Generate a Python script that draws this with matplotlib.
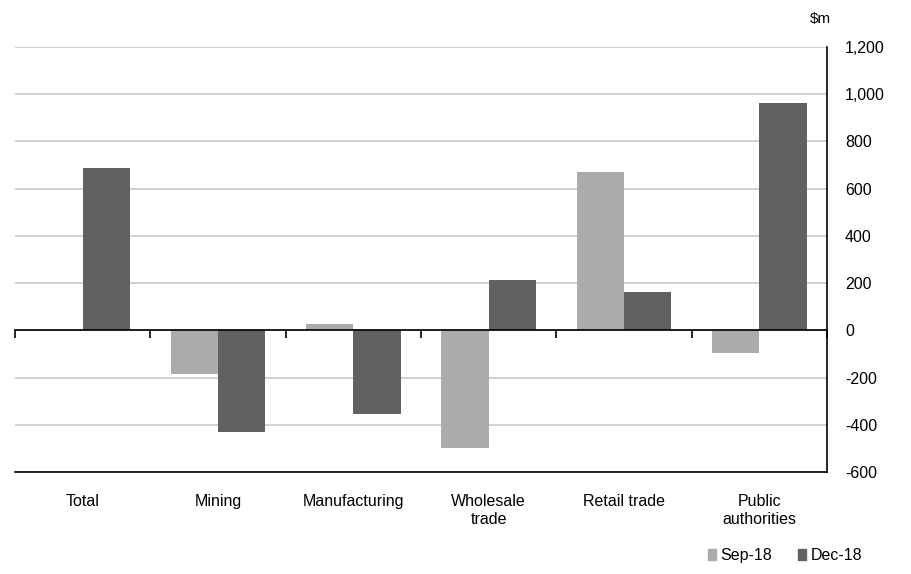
import numpy as np
import matplotlib
matplotlib.use('Agg')
import matplotlib.pyplot as plt
from matplotlib import font_manager
from matplotlib.patches import Patch
from matplotlib.ticker import FuncFormatter, FixedLocator

categories = ['Total', 'Mining', 'Manufacturing', 'Wholesale\ntrade', 'Retail trade', 'Public\nauthorities']
sep_18 = [0, -184, 28, -497, 672, -97]
dec_18 = [689, -429, -353, 213, 164, 961]
y_ticks = [-600, -400, -200, 0, 200, 400, 600, 800, 1000, 1200]

names = {f.name for f in font_manager.fontManager.ttflist}
font = 'Liberation Sans Narrow' if 'Liberation Sans Narrow' in names else 'Liberation Sans'
plt.rcParams['font.family'] = [font, 'DejaVu Sans']

light = '#ababab'
dark = '#616161'

fig = plt.figure(figsize=(9.11, 5.74), dpi=100)
ax = fig.add_axes([15 / 911, 1 - 472 / 574, (827 - 15) / 911, (472 - 47) / 574])

x = np.arange(len(categories))
w = 0.35
ax.bar(x - w / 2, sep_18, w, color=light, zorder=3)
ax.bar(x + w / 2, dec_18, w, color=dark, zorder=3)

ax.set_xlim(-0.5, len(categories) - 0.5)
ax.set_ylim(-600, 1200)
ax.set_yticks(y_ticks)
ax.yaxis.set_major_formatter(FuncFormatter(lambda v, p: f'{int(v):,}'))
ax.yaxis.tick_right()
ax.tick_params(axis='y', length=0, pad=13, labelsize=11.5)
ax.grid(axis='y', color='#c8c8c8', linewidth=1.2, zorder=0)

# zero line uses the top spine, with boundary ticks pointing down
ax.spines['top'].set_position(('data', 0))
ax.spines['top'].set_zorder(4)
ax.spines['left'].set_visible(False)
for s in ['top', 'bottom', 'right']:
    ax.spines[s].set_linewidth(1.2)
    ax.spines[s].set_color('black')

ax.xaxis.set_major_locator(FixedLocator(np.arange(-0.5, len(categories), 1.0)))
ax.xaxis.set_minor_locator(FixedLocator(x))
ax.xaxis.set_major_formatter(FuncFormatter(lambda v, p: ''))
ax.set_xticklabels(categories, minor=True)
ax.tick_params(axis='x', which='major', top=True, bottom=False, labeltop=False,
               labelbottom=False, direction='in', length=6, width=1.2)
ax.tick_params(axis='x', which='minor', bottom=True, length=0, pad=16, labelsize=11.5)

ax.annotate('$m', xy=(1.0, 1.0), xycoords='axes fraction', xytext=(3, 20),
            textcoords='offset points', ha='right', va='center', fontsize=11)

handles = [Patch(color=light, label='Sep-18'), Patch(color=dark, label='Dec-18')]
fig.legend(handles=handles, loc='center right', bbox_to_anchor=(0.962, 0.032),
           ncol=2, frameon=False, handlelength=0.5, handleheight=0.6,
           handletextpad=0.3, columnspacing=1.6, fontsize=11.5)

fig.savefig('out.png', dpi=100)
